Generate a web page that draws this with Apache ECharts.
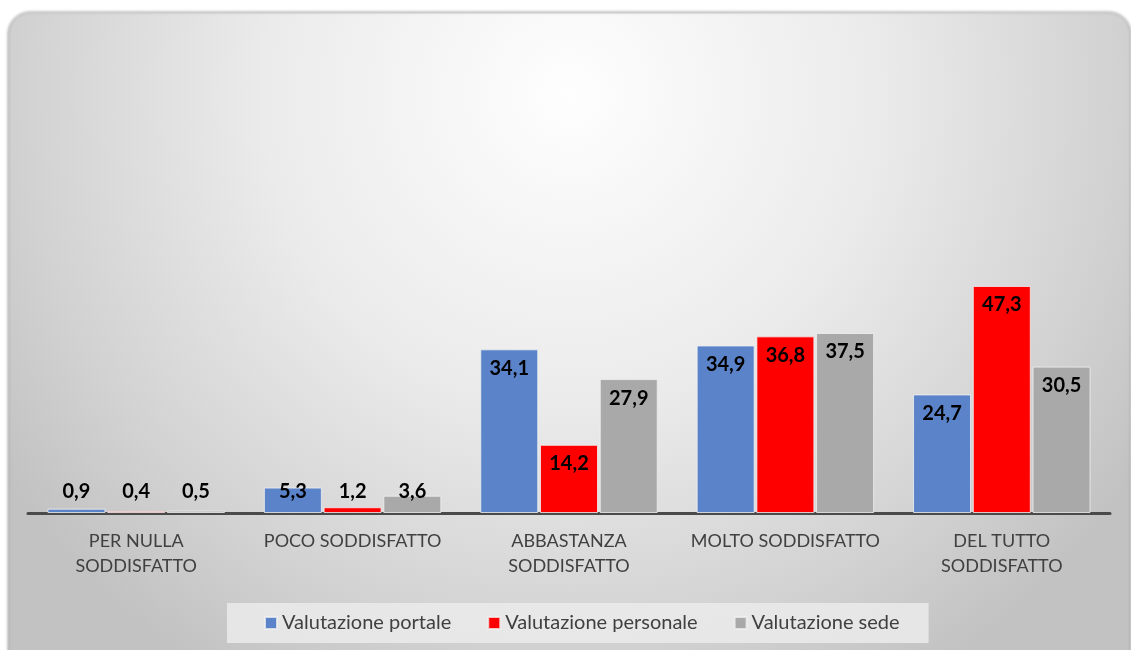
<!DOCTYPE html>
<html>
<head>
<meta charset="utf-8">
<script src="https://cdn.jsdelivr.net/npm/echarts@6/dist/echarts.min.js"></script>
<style>
  html, body { margin: 0; padding: 0; background: #ffffff; }
  #container_01 { width: 1131px; height: 650px; }
</style>
</head>
<body>
<div id="container_01"></div>
<script>
// Dati del grafico
const categorie = ['PER NULLA\nSODDISFATTO', 'POCO SODDISFATTO', 'ABBASTANZA\nSODDISFATTO', 'MOLTO SODDISFATTO', 'DEL TUTTO\nSODDISFATTO'];
const nomi_serie = ['Valutazione portale', 'Valutazione personale', 'Valutazione sede'];
const portale = [0.9, 5.3, 34.1, 34.9, 24.7];
const personale = [0.4, 1.2, 14.2, 36.8, 47.3];
const sede = [0.5, 3.6, 27.9, 37.5, 30.5];
const colori = ['#5b83c9', '#ff0000', '#a9a9a9'];

const font = 'Lato';

// valori piccoli: etichetta appoggiata sulla linea base, altrimenti dentro la barra in alto
function etichette(values) {
    return values.map(function (v) {
        if (v < 8) {
            return { value: v, label: { position: 'insideBottom', distance: 11 } };
        }
        return { value: v, label: { position: 'insideTop', distance: 9 } };
    });
}

var chartDom = document.getElementById('container_01');
var myChart = echarts.init(chartDom, null, { renderer: 'canvas' });
var option;

function serie(nome, dati, colore) {
    return {
        name: nome,
        type: 'bar',
        barWidth: 58,
        barGap: '3%',
        itemStyle: {
            color: colore,
            borderColor: 'rgba(240,240,240,0.8)',
            borderWidth: 1
        },
        label: {
            show: true,
            color: '#000000',
            fontFamily: font,
            fontWeight: 'bold',
            fontSize: 20,
            formatter: function (p) {
                return p.value.toFixed(1).replace('.', ',');
            }
        },
        data: etichette(dati)
    };
}

option = {
    animation: false,
    graphic: [
        {
            type: 'rect',
            z: -10,
            shape: { x: 8, y: 13, width: 1123, height: 680, r: 22 },
            style: {
                fill: {
                    type: 'radial', x: 0.5, y: 0.12, r: 1.0,
                    colorStops: [
                        { offset: 0, color: '#fefefe' },
                        { offset: 0.45, color: '#ebebeb' },
                        { offset: 0.8, color: '#d2d2d2' },
                        { offset: 1, color: '#c2c2c2' }
                    ]
                },
                stroke: '#d0d0d0',
                lineWidth: 1,
                shadowBlur: 3,
                shadowColor: 'rgba(0,0,0,0.25)',
                shadowOffsetY: -1
            }
        }
    ],
    grid: {
        left: 28,
        right: 21,
        top: 33,
        bottom: 137,
        containLabel: false
    },
    legend: {
        data: nomi_serie,
        left: 227,
        top: 603,
        backgroundColor: 'rgba(235,235,235,0.85)',
        padding: [10, 29, 10, 37],
        itemWidth: 12,
        itemHeight: 12,
        itemGap: 36,
        icon: 'rect',
        textStyle: {
            fontFamily: font,
            fontSize: 20,
            color: '#404040'
        }
    },
    xAxis: {
        type: 'category',
        data: categorie,
        axisLine: { lineStyle: { color: '#4a4a4a', width: 3 } },
        axisTick: { show: false },
        axisLabel: {
            fontFamily: font,
            fontSize: 18,
            color: '#404040',
            lineHeight: 25,
            margin: 16,
            interval: 0
        }
    },
    yAxis: {
        type: 'value',
        min: 0,
        max: 100,
        show: false,
        splitLine: { show: false }
    },
    series: [
        serie(nomi_serie[0], portale, colori[0]),
        serie(nomi_serie[1], personale, colori[1]),
        serie(nomi_serie[2], sede, colori[2])
    ]
};

option && myChart.setOption(option);
window.addEventListener('resize', function () {
    myChart.resize();
});
</script>
</body>
</html>
